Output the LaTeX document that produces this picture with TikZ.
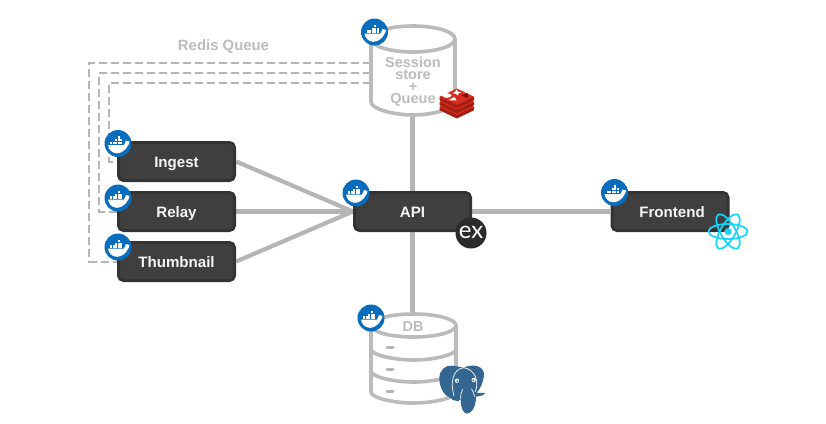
\documentclass[tikz,border=0pt]{standalone}
\usepackage{fontspec}
\setmainfont{Liberation Sans}
\newfontfamily\exfont{Lato}
\definecolor{wire}{HTML}{B5B5B5}
\definecolor{boxfill}{HTML}{3F3F3F}
\definecolor{boxedge}{HTML}{333333}
\definecolor{dockerblue}{HTML}{0A6CBC}
\definecolor{reactblue}{HTML}{12D6FB}
\definecolor{pgblue}{HTML}{336791}
\definecolor{redtop}{HTML}{D82C20}
\definecolor{redside}{HTML}{A41E11}
\tikzset{
  slot/.style={minimum width=119pt,minimum height=41pt,inner sep=0pt},
  svc/.style={draw=boxedge,fill=boxfill,line width=3pt,rounded corners=5pt,minimum width=116pt,minimum height=38pt,inner sep=0pt,outer sep=0pt,text=white!96!black,text height=11pt,text depth=0pt,font=\bfseries\fontsize{15.1}{16}\selectfont},
  link/.style={draw=wire,line width=4.2pt},
  queue/.style={draw=wire,line width=2pt,dash pattern=on 8pt off 4pt},
  cyl/.style={draw=wire!92!white,line width=3.6pt},
  greytext/.style={text=wire!90!white,font=\bfseries\fontsize{14.5}{12}\selectfont,align=center,inner sep=0pt},
  dockerbadge/.pic={
    \fill[dockerblue] (0,0) circle[radius=13.5pt];
    \fill[white] (-10,1.5) -- (6,1.5) .. controls (7,0) and (7.5,-2) .. (8,-3) .. controls (9,-2) and (10,-1.8) .. (11.5,-2) .. controls (11.2,0.5) and (10.5,1.5) .. (9.8,2.2) .. controls (8,6.5) and (3,9.8) .. (-1,9.8) .. controls (-6,9.8) and (-9.5,6) .. (-10,1.5) -- cycle;
    \foreach \cx in {-8,-5.5,-3,-0.5,2}{\fill[white] (\cx,-1.7) rectangle ++(2,2.2);}
    \foreach \cx in {-3,-0.5,2}{\fill[white] (\cx,-4.4) rectangle ++(2,2.2);}
    \fill[white] (-0.5,-7.1) rectangle ++(2,2.2);
  }
}
\begin{document}
\begin{tikzpicture}[x=1pt,y=-1pt]
\useasboundingbox (0,0) rectangle (826,423);
\coordinate (sessbot) at (412.5,115);
\coordinate (dbtop) at (412.5,314);
\coordinate (qa) at (371,63);
\coordinate (qb) at (371,73);
\coordinate (qc) at (371,83);
\coordinate (ca) at (89,63);
\coordinate (cb) at (99,73);
\coordinate (cc) at (109,83);
\node[slot] (ingest) at (176.5,161.5) {};
\node[slot] (relay) at (176.5,211.5) {};
\node[slot] (thumb) at (176.5,261.5) {};
\node[slot] (api) at (412.5,211.5) {};
\node[slot] (front) at (670,211.5) {};
\draw[queue] (qa) -- (ca) |- (thumb.west);
\draw[queue] (qb) -- (cb) |- (relay.west);
\draw[queue] (qc) -- (cc) |- (ingest.west);
\draw[link] (ingest.east) -- (api.west);
\draw[link] (relay.east) -- (api.west);
\draw[link] (thumb.east) -- (api.west);
\draw[link] (api.east) -- (front.west);
\draw[link] (api.north) -- (sessbot);
\draw[link] (api.south) -- (dbtop);
\node[svc] (ingestbox) at (ingest) {Ingest};
\node[svc] (relaybox) at (relay) {Relay};
\node[svc] (thumbbox) at (thumb) {Thumbnail};
\node[svc] (apibox) at (api) {API};
\node[svc] (frontbox) at (front) {\hspace*{4pt}Frontend};
% session store cylinder
\draw[cyl] (413,39) ellipse[x radius=42pt,y radius=13pt];
\draw[cyl] (371,39) -- (371,102) .. controls (371,109) and (394,115) .. (413,115) .. controls (432,115) and (455,109) .. (455,102) -- (455,39);
\node[greytext] (sess) at (413,81.5) {Session\\store\\+\\Queue};
% db cylinder
\draw[cyl] (413.5,325.5) ellipse[x radius=42.5pt,y radius=11.5pt];
\draw[cyl] (371,325.5) -- (371,392) .. controls (371,398) and (394,403) .. (413.5,403) .. controls (433,403) and (456,398) .. (456,392) -- (456,325.5);
\draw[cyl] (371,349) .. controls (371,355) and (394,360) .. (413.5,360) .. controls (433,360) and (456,355) .. (456,349);
\draw[cyl] (371,371) .. controls (371,377) and (394,382) .. (413.5,382) .. controls (433,382) and (456,377) .. (456,371);
\foreach \yy in {347,369,391}{\draw[wire,line width=3pt,line cap=round] (387,\yy) -- (393,\yy);}
\node[greytext] (db) at (413,327) {DB};
\node[greytext,font=\bfseries\fontsize{14.9}{16}\selectfont] (rq) at (223.5,47) {Redis Queue};
% redis logo
\begin{scope}[shift={(428.5,81.5)},scale=1/3]
\foreach \dy in {30,15,0}{
  \fill[redside] (33,46+\dy) -- (33,56+\dy) -- (85,81+\dy) -- (137,56+\dy) -- (137,46+\dy) -- cycle;
  \fill[redtop] (85,21+\dy) -- (137,46+\dy) -- (85,70+\dy) -- (33,46+\dy) -- cycle;
}
\fill[white] (55,42) ellipse[x radius=14pt,y radius=7pt];
\fill[white] (84,24) -- (88,31) -- (98,32) -- (90,36) -- (88,42) -- (82,37) -- (72,35) -- (80,31) -- cycle;
\fill[white] (60,56) -- (78,46) -- (84,57) -- cycle;
\fill[redside!70!black] (98,42) -- (118,35) -- (118,49) -- cycle;
\end{scope}
% elixir badge
\fill[black!83] (471,233) circle[radius=15.5pt];
\node[text=white,inner sep=0pt,font=\exfont\fontsize{24}{24}\selectfont] (ex) at (471,232) {ex};
% react logo
\begin{scope}[shift={(728,231.5)}]
\foreach \ang in {0,60,120}{\draw[reactblue,line width=1.7pt,rotate=\ang] (0,0) ellipse[x radius=19.5pt,y radius=7.5pt];}
\fill[reactblue] (0,0) circle[radius=3.5pt];
\end{scope}
% postgres elephant
\begin{scope}[shift={(432,360)},scale=1/3]
\fill[pgblue] (22,55) .. controls (22,30) and (40,15) .. (60,17) .. controls (75,18) and (85,22) .. (95,23) .. controls (110,15) and (150,10) .. (156,40) .. controls (156,65) and (145,85) .. (133,100) .. controls (132,130) and (128,155) .. (105,161) .. controls (92,160) and (86,140) .. (86,120) .. controls (70,120) and (45,115) .. (33,95) .. controls (25,80) and (22,70) .. (22,55) -- cycle;
\fill[pgblue] (55,108) -- (82,116) -- (80,124) -- (62,120) -- cycle;
\fill[pgblue] (130,98) -- (159,99) -- (152,106) -- (133,110) -- cycle;
\draw[white,line width=.7pt] (66,108) .. controls (55,70) and (60,28) .. (95,23) .. controls (130,28) and (142,65) .. (130,95);
\draw[white,line width=.7pt] (86,118) .. controls (85,105) and (88,95) .. (92,88);
\draw[white,line width=.7pt] (128,110) .. controls (126,100) and (122,92) .. (118,86);
\fill[white] (75,62) circle[radius=6.5pt];
\fill[white] (125,60) circle[radius=6.5pt];
\fill[pgblue] (76,63) circle[radius=3pt];
\fill[pgblue] (124,61) circle[radius=3pt];
\end{scope}
% docker badges
\pic (d1) at (118,143.5) {dockerbadge};
\pic (d2) at (118,198) {dockerbadge};
\pic (d3) at (118,247) {dockerbadge};
\pic (d4) at (356,193) {dockerbadge};
\pic (d5) at (614.5,192.5) {dockerbadge};
\pic (d6) at (374.5,32) {dockerbadge};
\pic (d7) at (371,318) {dockerbadge};
\end{tikzpicture}
\end{document}
